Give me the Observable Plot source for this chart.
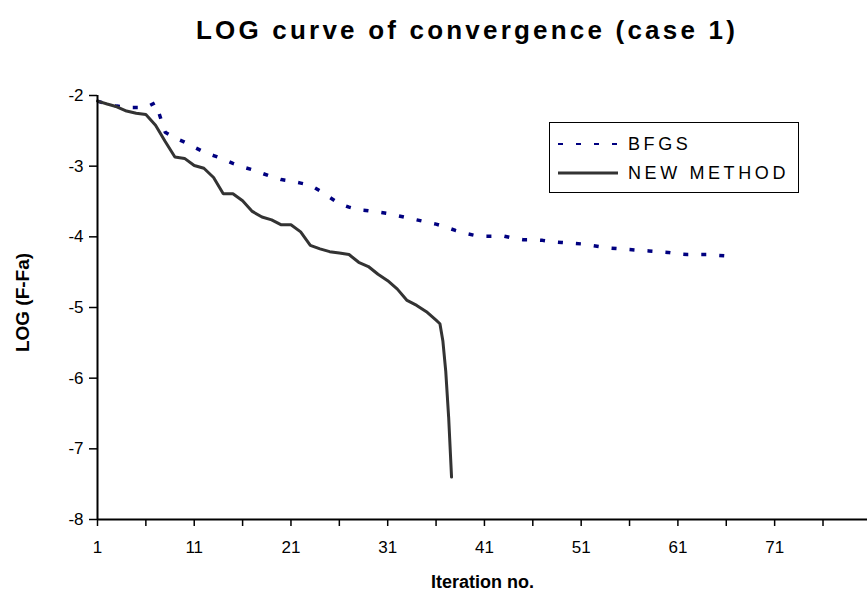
<!DOCTYPE html>
<html><head><meta charset="utf-8">
<script src="https://cdn.jsdelivr.net/npm/d3@7"></script>
<script src="https://cdn.jsdelivr.net/npm/@observablehq/plot@0.6"></script>
<style>
body{margin:0;background:#fff;font-family:"Liberation Sans",Arial,sans-serif;}
#wrap{position:relative;width:867px;height:600px;overflow:hidden;background:#fff;}
#title{position:absolute;left:67px;width:800px;top:15px;text-align:center;font-weight:bold;font-size:26px;letter-spacing:3.2px;color:#000;}
#chart{position:absolute;left:0;top:62px;}
#legend{position:absolute;left:549px;top:122px;width:248px;height:69px;border:1.5px solid #000;background:#fff;}
#legend svg{display:block;}
</style></head><body>
<div id="wrap">
  <div id="title">LOG curve of convergence (case 1)</div>
  <div id="chart"></div>
  <div id="legend"></div>
</div>
<script>
// ---- data ----
const seriesNames = ["BFGS", "NEW METHOD"];
const seriesColors = ["#000080", "#333333"];

const bfgsIter = [1,2,3,4,5,6,7,8,9,10,11,12,13,14,15,16,17,18,19,20,21,22,23,24,25,26,27,28,29,30,31,32,33,34,35,36,37,38,39,40,41,42,43,44,45,46,47,48,49,50,51,52,53,54,55,56,57,58,59,60,61,62,63,64,65,66];
const bfgsVal = [-2.08,-2.12,-2.15,-2.17,-2.17,-2.17,-2.10,-2.52,-2.60,-2.66,-2.73,-2.80,-2.85,-2.90,-2.96,-3.01,-3.05,-3.10,-3.15,-3.19,-3.21,-3.24,-3.27,-3.35,-3.44,-3.53,-3.58,-3.62,-3.63,-3.65,-3.67,-3.70,-3.73,-3.76,-3.79,-3.82,-3.86,-3.91,-3.95,-3.98,-3.99,-3.99,-3.99,-4.02,-4.04,-4.04,-4.05,-4.07,-4.08,-4.09,-4.10,-4.12,-4.14,-4.16,-4.17,-4.18,-4.19,-4.20,-4.21,-4.22,-4.24,-4.25,-4.25,-4.25,-4.26,-4.27];

const newIter = [1,2,3,4,5,6,7,8,9,10,11,12,13,14,15,16,17,18,19,20,21,22,23,24,25,26,27,28,29,30,31,32,33,34,35,36,36.4,36.7,37,37.3,37.6];
const newVal = [-2.08,-2.12,-2.16,-2.22,-2.25,-2.27,-2.42,-2.65,-2.87,-2.89,-2.99,-3.03,-3.16,-3.39,-3.39,-3.49,-3.64,-3.72,-3.76,-3.83,-3.83,-3.93,-4.12,-4.17,-4.21,-4.23,-4.25,-4.36,-4.42,-4.53,-4.62,-4.74,-4.90,-4.97,-5.06,-5.18,-5.23,-5.47,-5.90,-6.55,-7.40];

const xLabelTicks = [1,11,21,31,41,51,61,71];
const xMinorTicks = [1,6,11,16,21,26,31,36,41,46,51,56,61,66,71,76];
const yTicks = [-2,-3,-4,-5,-6,-7,-8];
const yTickLabels = ["-2","-3","-4","-5","-6","-7","-8"];
const xDomain = [1, 80.6];
const yDomain = [-8, -2];
const xTitle = "Iteration no.";
const yTitle = "LOG (F-Fa)";

// ---- tables ----
const bfgs = bfgsIter.map((x, i) => ({x, y: bfgsVal[i]}));
const nm = newIter.map((x, i) => ({x, y: newVal[i]}));

const font = "'Liberation Sans', Arial, sans-serif";

const chart = Plot.plot({
  width: 867,
  height: 538,
  marginLeft: 97,
  marginRight: 0,
  marginTop: 33,
  marginBottom: 81,
  style: {fontFamily: font, fontSize: "16px", color: "#000", background: "#fff"},
  x: {domain: xDomain},
  y: {domain: yDomain},
  marks: [
    Plot.axisY({ticks: yTicks, tickSize: 8, tickPadding: 6, fontSize: 17, strokeWidth: 1.5, label: null,
      tickFormat: d => yTickLabels[yTicks.indexOf(d)]}),
    Plot.axisX({ticks: xLabelTicks, tickSize: 0, tickPadding: 21, fontSize: 17, label: null, tickFormat: d => String(d)}),
    Plot.axisX({ticks: xMinorTicks, tickSize: 7, strokeWidth: 1.5, tickFormat: () => "", label: null}),
    Plot.line(bfgs, {x: "x", y: "y", stroke: seriesColors[0], strokeWidth: 3.5, strokeDasharray: "5,13", strokeLinecap: "butt"}),
    Plot.line(nm, {x: "x", y: "y", stroke: seriesColors[1], strokeWidth: 3, strokeLinejoin: "miter"}),
    Plot.ruleX([xDomain[0]], {stroke: "#000", strokeWidth: 2}),
    Plot.ruleY([yDomain[0]], {stroke: "#000", strokeWidth: 2}),
    Plot.text([yTitle], {frameAnchor: "left", textAnchor: "middle", lineAnchor: "middle", dx: -75, dy: -5, rotate: -90,
      fontWeight: "bold", fontSize: 19, letterSpacing: 2, fill: "#000"}),
    Plot.text([xTitle], {frameAnchor: "bottom", lineAnchor: "middle", dy: 63, fontWeight: "bold", fontSize: 18, fill: "#000"})
  ]
});
document.getElementById("chart").appendChild(chart);

// ---- legend ----
const lg = d3.select("#legend").append("svg").attr("width", 248).attr("height", 69);
const rows = [21, 50];
seriesNames.forEach((name, i) => {
  lg.append("line").attr("x1", 8).attr("x2", 68).attr("y1", rows[i]).attr("y2", rows[i])
    .attr("stroke", seriesColors[i]).attr("stroke-width", i === 0 ? 2 : 3)
    .attr("stroke-dasharray", i === 0 ? "5,13" : null);
  lg.append("text").attr("x", 78).attr("y", rows[i]).attr("dominant-baseline", "central")
    .attr("font-family", font).attr("font-size", 18).attr("letter-spacing", 3.6).attr("fill", "#000").text(name);
});
</script>
</body></html>
